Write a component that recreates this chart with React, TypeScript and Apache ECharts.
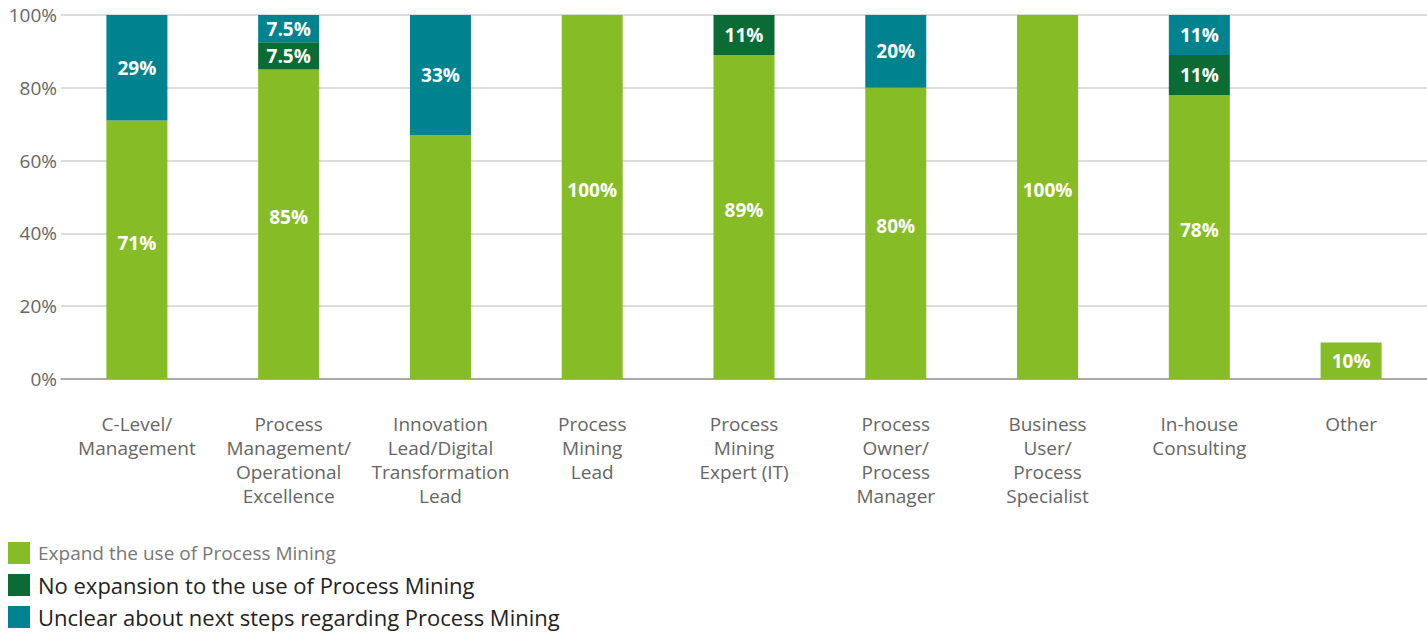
import React, { useEffect, useRef } from "react";
import * as echarts from "echarts";

const categories = [
  "C-Level/\nManagement",
  "Process\nManagement/\nOperational\nExcellence",
  "Innovation\nLead/Digital\nTransformation\nLead",
  "Process\nMining\nLead",
  "Process\nMining\nExpert (IT)",
  "Process\nOwner/\nProcess\nManager",
  "Business\nUser/\nProcess\nSpecialist",
  "In-house\nConsulting",
  "Other",
];
const expandValues = [71, 85, 67, 100, 89, 80, 100, 78, 10];
const noExpansionValues = [0, 7.5, 0, 0, 11, 0, 0, 11, 0];
const unclearValues = [29, 7.5, 33, 0, 0, 20, 0, 11, 0];
// labels not printed in the reference
const hiddenExpandLabels = ["Innovation\nLead/Digital\nTransformation\nLead"];
const seriesNames = [
  "Expand the use of Process Mining",
  "No expansion to the use of Process Mining",
  "Unclear about next steps regarding Process Mining",
];
const colors = ["#86bc25", "#0b6b35", "#00838f"];

export default function App() {
  const ref = useRef<HTMLDivElement>(null);
  useEffect(() => {
    if (!ref.current) return;
    const chart = echarts.init(ref.current, undefined, { renderer: "svg" });
    const font = "'Open Sans', 'Noto Sans', sans-serif";
    const baseLabel = {
      show: true,
      position: "inside",
      color: "#fff",
      fontWeight: "bold",
      fontSize: 19,
      fontFamily: font,
      formatter: (p: any) => (p.value ? p.value + "%" : ""),
    };
    const expandData = expandValues.map((v, i) => {
      if (hiddenExpandLabels.includes(categories[i])) return { value: v, label: { show: false } };
      if (v < 20) return { value: v, label: { offset: [0, 0] } };
      return v;
    });
    const mk = (name: string, data: any[], color: string, offset: number[]) => ({
      name,
      type: "bar",
      stack: "total",
      barWidth: 61,
      data,
      itemStyle: { color },
      label: { ...baseLabel, offset },
    });
    const legendItem = (i: number, top: number, fontSize: number, color: string) => ({
      orient: "vertical",
      left: 8,
      top,
      padding: 0,
      itemWidth: 22,
      itemHeight: 22,
      itemGap: 8,
      icon: "rect",
      data: [
        {
          name: seriesNames[i],
          textStyle: { fontSize, color, fontFamily: font, padding: [0, 0, 0, 3] },
        },
      ],
    });
    chart.setOption({
      animation: false,
      textStyle: { fontFamily: font },
      grid: { left: 61, right: 0, top: 15, bottom: 255 },
      legend: [
        legendItem(0, 542, 19, "#777"),
        legendItem(1, 574, 22, "#222"),
        legendItem(2, 606, 22, "#222"),
      ],
      xAxis: {
        type: "category",
        data: categories,
        axisLine: { lineStyle: { color: "#999", width: 1.5 } },
        axisTick: { show: false },
        axisLabel: {
          color: "#666",
          fontSize: 19,
          lineHeight: 24,
          margin: 33,
          interval: 0,
          fontFamily: font,
        },
      },
      yAxis: {
        type: "value",
        min: 0,
        max: 100,
        interval: 20,
        axisLabel: {
          formatter: "{value}%",
          color: "#666",
          fontSize: 19,
          margin: 4,
          fontFamily: font,
        },
        splitLine: { lineStyle: { color: "#d0d0d0", width: 1.5 } },
        axisLine: { show: false },
        axisTick: { show: false },
      },
      series: [
        mk(seriesNames[0], expandData, colors[0], [0, -7]),
        mk(seriesNames[1], noExpansionValues, colors[1], [0, 0]),
        mk(seriesNames[2], unclearValues, colors[2], [0, 0]),
      ],
    });
    return () => chart.dispose();
  }, []);
  return <div ref={ref} style={{ width: 1427, height: 634, position: "absolute", left: 0, top: 0 }} />;
}
